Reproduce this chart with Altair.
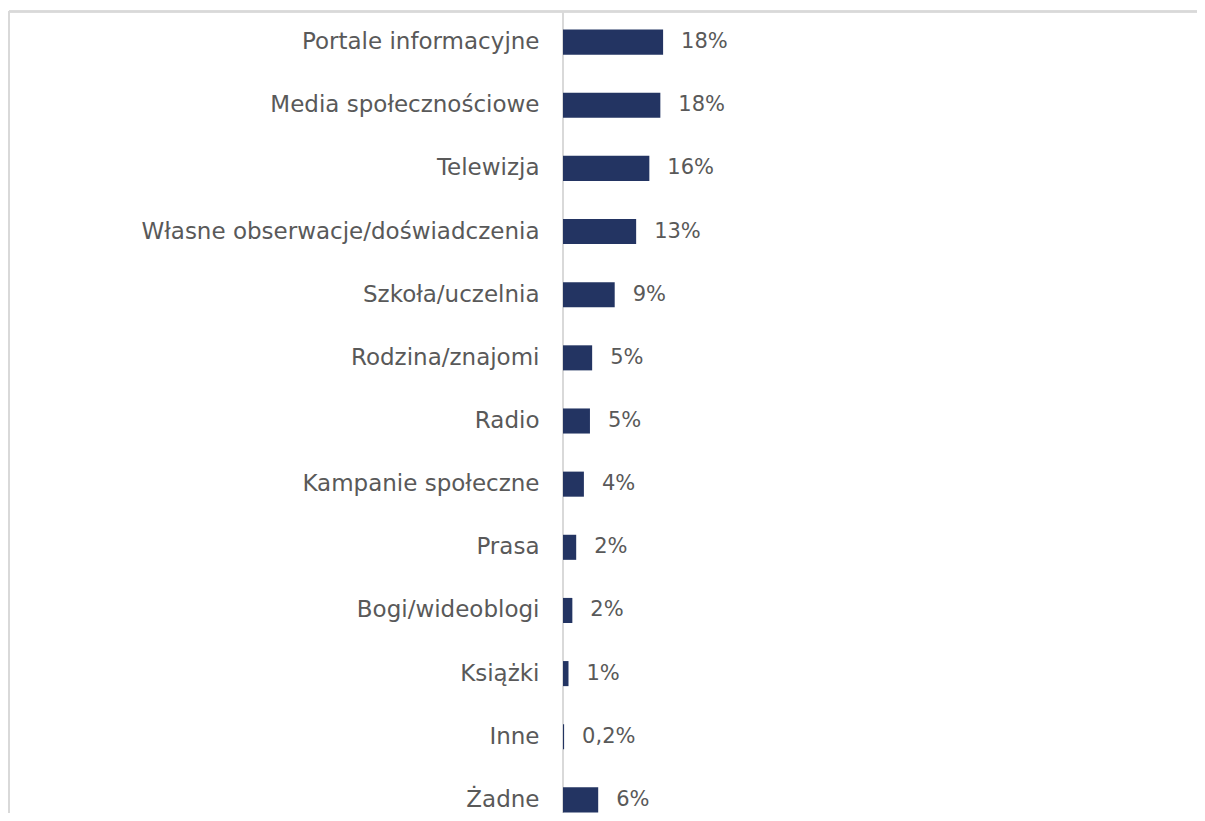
import altair as alt
import pandas as pd

categories = [
    "Portale informacyjne",
    "Media społecznościowe",
    "Telewizja",
    "Własne obserwacje/doświadczenia",
    "Szkoła/uczelnia",
    "Rodzina/znajomi",
    "Radio",
    "Kampanie społeczne",
    "Prasa",
    "Bogi/wideoblogi",
    "Książki",
    "Inne",
    "Żadne",
]
values = [18.2, 17.7, 15.7, 13.3, 9.4, 5.3, 4.9, 3.8, 2.4, 1.7, 1.0, 0.2, 6.4]
value_labels = ["18%", "18%", "16%", "13%", "9%", "5%", "5%", "4%", "2%", "2%", "1%", "0,2%", "6%"]

df = pd.DataFrame({"cat": categories, "val": values, "lab": value_labels})

FONT = "DejaVu Sans"
TXT = "#595959"
GRID = "#d9d9d9"
BAR = "#233462"

W = 634
H = 802
LEFT = 555

y_enc = alt.Y(
    "cat:N",
    sort=categories,
    title=None,
    scale=alt.Scale(range=[0, 820], paddingInner=0.603, paddingOuter=0.294),
    axis=alt.Axis(
        domain=False,
        ticks=False,
        tickSize=0,
        labelPadding=24,
        labelFont=FONT,
        labelFontSize=23,
        labelColor=TXT,
        labelFontWeight="normal",
        labelLimit=600,
    ),
)
x_enc = alt.X("val:Q", title=None, scale=alt.Scale(domain=[0, W / 5.5]), axis=None)

bars = alt.Chart(df).mark_bar(color=BAR).encode(x=x_enc, y=y_enc)
labels = alt.Chart(df).mark_text(
    align="left", baseline="middle", dx=18, font=FONT, fontSize=21, color=TXT
).encode(x=x_enc, y=y_enc, text="lab:N")

top_line = alt.Chart(df).mark_rule(color=GRID, strokeWidth=1.5).encode(
    x=alt.value(-LEFT + 1), x2=alt.value(W), y=alt.value(0.5)
)
left_line = alt.Chart(df).mark_rule(color=GRID, strokeWidth=1.5).encode(
    x=alt.value(-LEFT + 1), y=alt.value(0), y2=alt.value(H)
)
axis_line = alt.Chart(df).mark_rule(color=GRID, strokeWidth=2).encode(
    x=alt.value(0), y=alt.value(0), y2=alt.value(H)
)

chart = (
    alt.layer(top_line, left_line, axis_line, bars, labels)
    .properties(
        width=W,
        height=H,
        autosize=alt.AutoSizeParams(type="none"),
        padding={"left": LEFT, "top": 3, "right": 0, "bottom": 0},
    )
    .configure_view(stroke=None)
)

chart.save("out.html", embed_options={"renderer": "svg", "actions": False})
